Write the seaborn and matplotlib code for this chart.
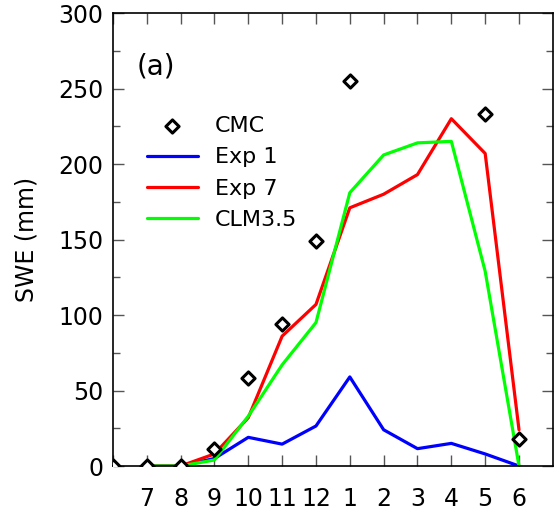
import numpy as np
import pandas as pd
import matplotlib
matplotlib.use("Agg")
import matplotlib.pyplot as plt
import seaborn as sns
from matplotlib.ticker import MultipleLocator

sns.set_style("ticks")
plt.rcParams['font.family'] = ['DejaVu Sans']
plt.rcParams['text.color'] = 'black'
plt.rcParams['axes.labelcolor'] = 'black'

# Data
month_labels = ["", "7", "8", "9", "10", "11", "12", "1", "2", "3", "4", "5", "6"]
cmc = [0, 0, 0, 11, 58, 94, 149, 255, np.nan, np.nan, np.nan, 233, 18]
exp1 = [np.nan, 0, 0, 5, 19, 14.5, 26.5, 59, 24, 11.5, 15, 8, 0]
exp7 = [np.nan, 0, 0, 8, 32, 86, 107, 171, 180, 193, 230, 207, 24]
clm35 = [np.nan, 0, 0, 4, 33, 67, 95, 181, 206, 214, 215, 129, 0]

x = np.arange(len(month_labels))
df = pd.DataFrame({"x": x, "CMC": cmc, "Exp 1": exp1, "Exp 7": exp7, "CLM3.5": clm35})

fig = plt.figure(figsize=(5.59, 5.12), dpi=100)
ax = fig.add_axes([0.202, 0.0898, 0.787, 0.8848])

colors = {"Exp 1": "#0000ff", "Exp 7": "#ff0000", "CLM3.5": "#00ff00"}
for name in ["Exp 1", "Exp 7", "CLM3.5"]:
    sns.lineplot(data=df, x="x", y=name, ax=ax, color=colors[name], linewidth=2.3, label=name)

sns.scatterplot(data=df, x="x", y="CMC", ax=ax, marker="D", s=45, facecolor="white",
                edgecolor="black", linewidth=2.2, label="CMC", zorder=5)

ax.set_xlim(0, 13)
ax.set_ylim(0, 300)
ax.set_xticks(x)
ax.set_xticklabels(month_labels)
ax.yaxis.set_major_locator(MultipleLocator(50))
ax.yaxis.set_minor_locator(MultipleLocator(25))
ax.tick_params(axis="both", which="both", direction="in", top=True, right=True,
               color="#555555", labelsize=17, labelcolor="black")
ax.tick_params(axis="both", which="major", length=8, width=1)
ax.tick_params(axis="both", which="minor", length=5, width=1)
ax.tick_params(axis="x", pad=15)
ax.tick_params(axis="y", pad=7)
ax.set_xlabel("")
ax.set_ylabel("SWE (mm)", fontsize=17, labelpad=14)
for s in ax.spines.values():
    s.set_linewidth(1.2)
    s.set_color("black")

ax.text(0.053, 0.883, "(a)", transform=ax.transAxes, fontsize=20, va="center", ha="left")

h, l = ax.get_legend_handles_labels()
order = [l.index("CMC"), l.index("Exp 1"), l.index("Exp 7"), l.index("CLM3.5")]
ax.legend([h[i] for i in order], [l[i] for i in order], loc="upper left",
          bbox_to_anchor=(0.077, 0.772), frameon=False, fontsize=16, borderpad=0,
          borderaxespad=0, handlelength=2.3, labelspacing=0.5, handletextpad=0.75)

fig.savefig("out.png", dpi=100)
